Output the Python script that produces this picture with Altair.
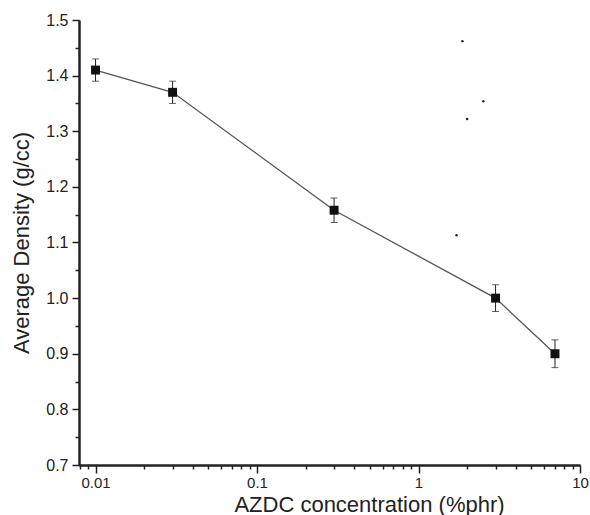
import altair as alt
import pandas as pd

# Data
conc = [0.01, 0.03, 0.3, 3.0, 7.0]
density = [1.41, 1.37, 1.158, 1.0, 0.90]
err = [0.02, 0.02, 0.022, 0.024, 0.025]

speck_x = [1.87, 2.52, 2.0, 1.72]
speck_y = [1.462, 1.354, 1.322, 1.113]

x_minor = [0.008, 0.009, 0.02, 0.03, 0.04, 0.05, 0.06, 0.07, 0.08, 0.09,
           0.2, 0.3, 0.4, 0.5, 0.6, 0.7, 0.8, 0.9,
           2, 3, 4, 5, 6, 7, 8, 9]
x_major = [0.01, 0.1, 1, 10]
y_minor = [0.75, 0.85, 0.95, 1.05, 1.15, 1.25, 1.35, 1.45]
y_major = [0.7, 0.8, 0.9, 1.0, 1.1, 1.2, 1.3, 1.4, 1.5]

df = pd.DataFrame({"conc": conc, "density": density, "err": err})
df["lo"] = df["density"] - df["err"]
df["hi"] = df["density"] + df["err"]
specks = pd.DataFrame({"conc": speck_x, "density": speck_y})

FONT = "Liberation Sans"
INK = "#222"

x_scale = alt.Scale(type="log", domain=[0.0079, 10], nice=False)
y_scale = alt.Scale(domain=[0.7, 1.5], nice=False, zero=False)

line_style = dict(grid=False, tickColor=INK, tickWidth=1.5, domainWidth=2,
                  domainColor=INK)

# minor-tick axes carrying the titles
x_axis_minor = alt.Axis(
    orient="bottom", values=x_minor, labels=False, tickSize=4,
    title="AZDC concentration (%phr)",
    titleFont=FONT, titleFontSize=22, titleFontWeight="normal", titleColor=INK,
    titleX=290, titleY=46, titleAlign="center", titleBaseline="alphabetic",
    **line_style)
y_axis_minor = alt.Axis(
    orient="left", values=y_minor, labels=False, tickSize=4,
    title="Average Density (g/cc)",
    titleFont=FONT, titleFontSize=22, titleFontWeight="normal", titleColor=INK,
    titleX=-51, titleY=222.5, titleAlign="center", titleBaseline="alphabetic",
    titleAngle=270, **line_style)

# major-tick axes with labels
x_axis_major = alt.Axis(
    orient="bottom", values=x_major, tickSize=8, title=None,
    labelExpr="format(datum.value, '~g')", labelFlush=False,
    labelFont=FONT, labelFontSize=15, labelColor=INK, labelOverlap=False,
    labelPadding=2, **line_style)
y_axis_major = alt.Axis(
    orient="left", values=y_major, tickSize=7, title=None,
    labelExpr="format(datum.value, '.1f')",
    labelFont=FONT, labelFontSize=16, labelColor=INK, labelOverlap=False,
    labelPadding=4, **line_style)

base = alt.Chart(df)
line = base.mark_line(color="#555", strokeWidth=1.3).encode(
    x=alt.X("conc:Q", scale=x_scale, axis=x_axis_minor),
    y=alt.Y("density:Q", scale=y_scale, axis=y_axis_minor))
pts = base.mark_square(size=80, color="#111", opacity=1).encode(
    x=alt.X("conc:Q", scale=x_scale, axis=x_axis_major),
    y=alt.Y("density:Q", scale=y_scale, axis=y_axis_major))
bars = base.mark_rule(color=INK, strokeWidth=1).encode(
    x=alt.X("conc:Q", scale=x_scale, axis=None),
    y=alt.Y("lo:Q", scale=y_scale, axis=None), y2="hi:Q")
cap_lo = base.mark_tick(orient="horizontal", size=7, thickness=1, color=INK).encode(
    x=alt.X("conc:Q", scale=x_scale, axis=None),
    y=alt.Y("lo:Q", scale=y_scale, axis=None))
cap_hi = base.mark_tick(orient="horizontal", size=7, thickness=1, color=INK).encode(
    x=alt.X("conc:Q", scale=x_scale, axis=None),
    y=alt.Y("hi:Q", scale=y_scale, axis=None))
dots = alt.Chart(specks).mark_circle(size=6, color=INK, opacity=1).encode(
    x=alt.X("conc:Q", scale=x_scale, axis=None),
    y=alt.Y("density:Q", scale=y_scale, axis=None))

chart = alt.layer(line, bars, cap_lo, cap_hi, pts, dots).resolve_axis(
    x="independent", y="independent"
).properties(
    width=501, height=445,
    autosize=alt.AutoSizeParams(type="none"),
    padding={"left": 79, "top": 20, "right": 10, "bottom": 50},
    background="white",
).configure_view(stroke=None)

chart.save("out.html", embed_options={"renderer": "svg", "actions": False})
